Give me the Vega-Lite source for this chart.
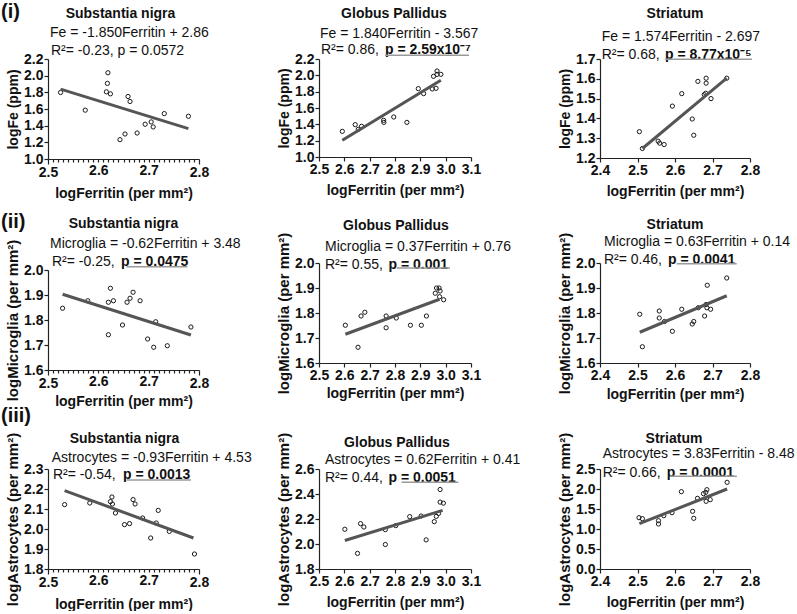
{
"$schema": "https://vega.github.io/schema/vega-lite/v6.json",
"background": "white",
"padding": {"left": 1, "top": 2, "right": 0, "bottom": 0},
"columns": 3,
"spacing": {"row": 104, "column": 120},
"bounds": "flush",
"align": "none",
"datasets": {
"pts": [
{"panel":"SN_Fe","ferritin":2.525,"value":1.798},{"panel":"SN_Fe","ferritin":2.574,"value":1.586},{"panel":"SN_Fe","ferritin":2.619,"value":2.035},{"panel":"SN_Fe","ferritin":2.618,"value":1.907},{"panel":"SN_Fe","ferritin":2.616,"value":1.806},{"panel":"SN_Fe","ferritin":2.624,"value":1.782},{"panel":"SN_Fe","ferritin":2.659,"value":1.75},{"panel":"SN_Fe","ferritin":2.663,"value":1.69},{"panel":"SN_Fe","ferritin":2.643,"value":1.232},{"panel":"SN_Fe","ferritin":2.653,"value":1.3},{"panel":"SN_Fe","ferritin":2.677,"value":1.312},{"panel":"SN_Fe","ferritin":2.693,"value":1.417},{"panel":"SN_Fe","ferritin":2.705,"value":1.445},{"panel":"SN_Fe","ferritin":2.709,"value":1.385},{"panel":"SN_Fe","ferritin":2.731,"value":1.545},{"panel":"SN_Fe","ferritin":2.779,"value":1.513},
{"panel":"GP_Fe","ferritin":2.592,"value":1.314},{"panel":"GP_Fe","ferritin":2.643,"value":1.396},{"panel":"GP_Fe","ferritin":2.655,"value":1.339},{"panel":"GP_Fe","ferritin":2.668,"value":1.376},{"panel":"GP_Fe","ferritin":2.755,"value":1.449},{"panel":"GP_Fe","ferritin":2.756,"value":1.424},{"panel":"GP_Fe","ferritin":2.795,"value":1.49},{"panel":"GP_Fe","ferritin":2.847,"value":1.424},{"panel":"GP_Fe","ferritin":2.892,"value":1.837},{"panel":"GP_Fe","ferritin":2.913,"value":1.776},{"panel":"GP_Fe","ferritin":2.947,"value":1.833},{"panel":"GP_Fe","ferritin":2.962,"value":1.841},{"panel":"GP_Fe","ferritin":2.952,"value":1.988},{"panel":"GP_Fe","ferritin":2.966,"value":2.053},{"panel":"GP_Fe","ferritin":2.966,"value":2.012},{"panel":"GP_Fe","ferritin":2.981,"value":2.012},
{"panel":"ST_Fe","ferritin":2.505,"value":1.333},{"panel":"ST_Fe","ferritin":2.513,"value":1.248},{"panel":"ST_Fe","ferritin":2.555,"value":1.285},{"panel":"ST_Fe","ferritin":2.559,"value":1.275},{"panel":"ST_Fe","ferritin":2.571,"value":1.268},{"panel":"ST_Fe","ferritin":2.593,"value":1.462},{"panel":"ST_Fe","ferritin":2.618,"value":1.525},{"panel":"ST_Fe","ferritin":2.646,"value":1.397},{"panel":"ST_Fe","ferritin":2.65,"value":1.315},{"panel":"ST_Fe","ferritin":2.661,"value":1.587},{"panel":"ST_Fe","ferritin":2.683,"value":1.603},{"panel":"ST_Fe","ferritin":2.683,"value":1.578},{"panel":"ST_Fe","ferritin":2.678,"value":1.52},{"panel":"ST_Fe","ferritin":2.682,"value":1.527},{"panel":"ST_Fe","ferritin":2.696,"value":1.5},{"panel":"ST_Fe","ferritin":2.738,"value":1.603},
{"panel":"SN_Mi","ferritin":2.529,"value":1.847},{"panel":"SN_Mi","ferritin":2.579,"value":1.877},{"panel":"SN_Mi","ferritin":2.624,"value":1.927},{"panel":"SN_Mi","ferritin":2.62,"value":1.871},{"panel":"SN_Mi","ferritin":2.63,"value":1.877},{"panel":"SN_Mi","ferritin":2.62,"value":1.741},{"panel":"SN_Mi","ferritin":2.648,"value":1.78},{"panel":"SN_Mi","ferritin":2.657,"value":1.871},{"panel":"SN_Mi","ferritin":2.663,"value":1.887},{"panel":"SN_Mi","ferritin":2.669,"value":1.911},{"panel":"SN_Mi","ferritin":2.683,"value":1.877},{"panel":"SN_Mi","ferritin":2.714,"value":1.793},{"panel":"SN_Mi","ferritin":2.698,"value":1.724},{"panel":"SN_Mi","ferritin":2.71,"value":1.691},{"panel":"SN_Mi","ferritin":2.737,"value":1.697},{"panel":"SN_Mi","ferritin":2.784,"value":1.772},
{"panel":"GP_Mi","ferritin":2.604,"value":1.751},{"panel":"GP_Mi","ferritin":2.654,"value":1.663},{"panel":"GP_Mi","ferritin":2.666,"value":1.788},{"panel":"GP_Mi","ferritin":2.681,"value":1.803},{"panel":"GP_Mi","ferritin":2.765,"value":1.788},{"panel":"GP_Mi","ferritin":2.765,"value":1.741},{"panel":"GP_Mi","ferritin":2.805,"value":1.78},{"panel":"GP_Mi","ferritin":2.861,"value":1.751},{"panel":"GP_Mi","ferritin":2.904,"value":1.751},{"panel":"GP_Mi","ferritin":2.924,"value":1.788},{"panel":"GP_Mi","ferritin":2.959,"value":1.879},{"panel":"GP_Mi","ferritin":2.964,"value":1.9},{"panel":"GP_Mi","ferritin":2.974,"value":1.9},{"panel":"GP_Mi","ferritin":2.978,"value":1.888},{"panel":"GP_Mi","ferritin":2.976,"value":1.865},{"panel":"GP_Mi","ferritin":2.992,"value":1.853},
{"panel":"ST_Mi","ferritin":2.506,"value":1.795},{"panel":"ST_Mi","ferritin":2.513,"value":1.665},{"panel":"ST_Mi","ferritin":2.558,"value":1.808},{"panel":"ST_Mi","ferritin":2.558,"value":1.78},{"panel":"ST_Mi","ferritin":2.572,"value":1.766},{"panel":"ST_Mi","ferritin":2.593,"value":1.727},{"panel":"ST_Mi","ferritin":2.618,"value":1.815},{"panel":"ST_Mi","ferritin":2.646,"value":1.756},{"panel":"ST_Mi","ferritin":2.65,"value":1.766},{"panel":"ST_Mi","ferritin":2.662,"value":1.821},{"panel":"ST_Mi","ferritin":2.679,"value":1.788},{"panel":"ST_Mi","ferritin":2.683,"value":1.834},{"panel":"ST_Mi","ferritin":2.685,"value":1.821},{"panel":"ST_Mi","ferritin":2.686,"value":1.911},{"panel":"ST_Mi","ferritin":2.695,"value":1.815},{"panel":"ST_Mi","ferritin":2.738,"value":1.94},
{"panel":"SN_As","ferritin":2.533,"value":2.122},{"panel":"SN_As","ferritin":2.583,"value":2.13},{"panel":"SN_As","ferritin":2.627,"value":2.16},{"panel":"SN_As","ferritin":2.624,"value":2.137},{"panel":"SN_As","ferritin":2.628,"value":2.125},{"panel":"SN_As","ferritin":2.634,"value":2.08},{"panel":"SN_As","ferritin":2.652,"value":2.022},{"panel":"SN_As","ferritin":2.662,"value":2.027},{"panel":"SN_As","ferritin":2.669,"value":2.147},{"panel":"SN_As","ferritin":2.673,"value":2.125},{"panel":"SN_As","ferritin":2.688,"value":2.055},{"panel":"SN_As","ferritin":2.704,"value":1.955},{"panel":"SN_As","ferritin":2.715,"value":2.03},{"panel":"SN_As","ferritin":2.719,"value":2.093},{"panel":"SN_As","ferritin":2.741,"value":1.988},{"panel":"SN_As","ferritin":2.791,"value":1.875},
{"panel":"GP_As","ferritin":2.602,"value":2.118},{"panel":"GP_As","ferritin":2.652,"value":1.925},{"panel":"GP_As","ferritin":2.664,"value":2.163},{"panel":"GP_As","ferritin":2.677,"value":2.136},{"panel":"GP_As","ferritin":2.762,"value":2.115},{"panel":"GP_As","ferritin":2.762,"value":1.996},{"panel":"GP_As","ferritin":2.803,"value":2.147},{"panel":"GP_As","ferritin":2.858,"value":2.219},{"panel":"GP_As","ferritin":2.903,"value":2.224},{"panel":"GP_As","ferritin":2.923,"value":2.033},{"panel":"GP_As","ferritin":2.955,"value":2.179},{"panel":"GP_As","ferritin":2.963,"value":2.221},{"panel":"GP_As","ferritin":2.972,"value":2.245},{"panel":"GP_As","ferritin":2.978,"value":2.436},{"panel":"GP_As","ferritin":2.978,"value":2.335},{"panel":"GP_As","ferritin":2.991,"value":2.327},
{"panel":"ST_As","ferritin":2.504,"value":1.283},{"panel":"ST_As","ferritin":2.513,"value":1.258},{"panel":"ST_As","ferritin":2.556,"value":1.208},{"panel":"ST_As","ferritin":2.556,"value":1.125},{"panel":"ST_As","ferritin":2.57,"value":1.333},{"panel":"ST_As","ferritin":2.592,"value":1.408},{"panel":"ST_As","ferritin":2.617,"value":1.933},{"panel":"ST_As","ferritin":2.647,"value":1.442},{"panel":"ST_As","ferritin":2.65,"value":1.267},{"panel":"ST_As","ferritin":2.66,"value":1.767},{"panel":"ST_As","ferritin":2.676,"value":1.883},{"panel":"ST_As","ferritin":2.682,"value":1.917},{"panel":"ST_As","ferritin":2.685,"value":1.983},{"panel":"ST_As","ferritin":2.683,"value":1.692},{"panel":"ST_As","ferritin":2.694,"value":1.733},{"panel":"ST_As","ferritin":2.739,"value":2.167}
],
"fits": [
{"panel":"SN_Fe","ferritin":2.525,"value":1.839},{"panel":"SN_Fe","ferritin":2.779,"value":1.365},
{"panel":"GP_Fe","ferritin":2.592,"value":1.204},{"panel":"GP_Fe","ferritin":2.981,"value":1.939},
{"panel":"ST_Fe","ferritin":2.513,"value":1.248},{"panel":"ST_Fe","ferritin":2.738,"value":1.603},
{"panel":"SN_Mi","ferritin":2.529,"value":1.903},{"panel":"SN_Mi","ferritin":2.784,"value":1.74},
{"panel":"GP_Mi","ferritin":2.604,"value":1.715},{"panel":"GP_Mi","ferritin":2.976,"value":1.855},
{"panel":"ST_Mi","ferritin":2.506,"value":1.723},{"panel":"ST_Mi","ferritin":2.738,"value":1.869},
{"panel":"SN_As","ferritin":2.533,"value":2.192},{"panel":"SN_As","ferritin":2.789,"value":1.955},
{"panel":"GP_As","ferritin":2.602,"value":2.028},{"panel":"GP_As","ferritin":2.988,"value":2.269},
{"panel":"ST_As","ferritin":2.505,"value":1.133},{"panel":"ST_As","ferritin":2.739,"value":2.0}
],
"annot": [
{"panel":"SN_Fe","role":"title","text":"Substantia nigra"},{"panel":"SN_Fe","role":"eq","text":"Fe = -1.850Ferritin + 2.86"},{"panel":"SN_Fe","role":"r2","text":"R²= -0.23, p = 0.0572"},{"panel":"SN_Fe","role":"roman","text":"(i)"},
{"panel":"GP_Fe","role":"title","text":"Globus Pallidus"},{"panel":"GP_Fe","role":"eq","text":"Fe = 1.840Ferritin - 3.567"},{"panel":"GP_Fe","role":"r2","text":"R²= 0.86,"},{"panel":"GP_Fe","role":"p","text":"p = 2.59x10⁻⁷"},
{"panel":"ST_Fe","role":"title","text":"Striatum"},{"panel":"ST_Fe","role":"eq","text":"Fe = 1.574Ferritin - 2.697"},{"panel":"ST_Fe","role":"r2","text":"R²= 0.68,"},{"panel":"ST_Fe","role":"p","text":"p = 8.77x10⁻⁵"},
{"panel":"SN_Mi","role":"title","text":"Substantia nigra"},{"panel":"SN_Mi","role":"eq","text":"Microglia = -0.62Ferritin + 3.48"},{"panel":"SN_Mi","role":"r2","text":"R²= -0.25,"},{"panel":"SN_Mi","role":"p","text":"p = 0.0475"},{"panel":"SN_Mi","role":"roman","text":"(ii)"},
{"panel":"GP_Mi","role":"title","text":"Globus Pallidus"},{"panel":"GP_Mi","role":"eq","text":"Microglia = 0.37Ferritin + 0.76"},{"panel":"GP_Mi","role":"r2","text":"R²= 0.55,"},{"panel":"GP_Mi","role":"p","text":"p = 0.001"},
{"panel":"ST_Mi","role":"title","text":"Striatum"},{"panel":"ST_Mi","role":"eq","text":"Microglia = 0.63Ferritin + 0.14"},{"panel":"ST_Mi","role":"r2","text":"R²= 0.46,"},{"panel":"ST_Mi","role":"p","text":"p = 0.0041"},
{"panel":"SN_As","role":"title","text":"Substantia nigra"},{"panel":"SN_As","role":"eq","text":"Astrocytes = -0.93Ferritin + 4.53"},{"panel":"SN_As","role":"r2","text":"R²= -0.54,"},{"panel":"SN_As","role":"p","text":"p = 0.0013"},{"panel":"SN_As","role":"roman","text":"(iii)"},
{"panel":"GP_As","role":"title","text":"Globus Pallidus"},{"panel":"GP_As","role":"eq","text":"Astrocytes = 0.62Ferritin + 0.41"},{"panel":"GP_As","role":"r2","text":"R²= 0.44,"},{"panel":"GP_As","role":"p","text":"p = 0.0051"},
{"panel":"ST_As","role":"title","text":"Striatum"},{"panel":"ST_As","role":"eq","text":"Astrocytes = 3.83Ferritin - 8.48"},{"panel":"ST_As","role":"r2","text":"R²= 0.66,"},{"panel":"ST_As","role":"p","text":"p = 0.0001"}
]
},
"concat": [
{"width":151,"height":100,"layer":[
{"data":{"name":"pts"},"transform":[{"filter":"datum.panel==='SN_Fe'"}],"mark":{"type":"point","shape":"circle","filled":false,"stroke":"#1a1a1a","strokeWidth":1,"size":18,"opacity":1},
"encoding":{"x":{"field":"ferritin","type":"quantitative","scale":{"domain":[2.5,2.8],"nice":false,"zero":false},"axis":{"title":"logFerritin (per mm²)","titlePadding":7,"tickCount":100,"labelOverlap":false,"values":[2.5,2.51,2.52,2.53,2.54,2.55,2.56,2.57,2.58,2.59,2.6,2.61,2.62,2.63,2.64,2.65,2.66,2.67,2.68,2.69,2.7,2.71,2.72,2.73,2.74,2.75,2.76,2.77,2.78,2.79,2.8],"labelExpr":"round(datum.value*100) % 10 === 0 ? format(datum.value, '.1f') : ''","tickSize":{"condition":{"test":"datum.value < 2.505 || datum.value > 2.795","value":5},"value":3}}},
"y":{"field":"value","type":"quantitative","scale":{"domain":[1.0,2.2],"nice":false,"zero":false},"axis":{"title":"logFe (ppm)","tickCount":100,"labelOverlap":false,"values":[1.0,1.2,1.4,1.6,1.8,2.0,2.2],"format":".1f"}}}},
{"data":{"name":"fits"},"transform":[{"filter":"datum.panel==='SN_Fe'"}],"mark":{"type":"line","color":"#555555","strokeWidth":3},"encoding":{"x":{"field":"ferritin","type":"quantitative"},"y":{"field":"value","type":"quantitative"}}},
{"data":{"name":"annot"},"transform":[{"filter":"datum.panel==='SN_Fe' && datum.role==='title'"}],"mark":{"type":"text","fontWeight":"bold","align":"center","dx":-3,"dy":-41.5},"encoding":{"x":{"datum":2.65},"y":{"datum":2.2},"text":{"field":"text"}}},
{"data":{"name":"annot"},"transform":[{"filter":"datum.panel==='SN_Fe' && datum.role==='eq'"}],"mark":{"type":"text","align":"left","dx":2,"dy":-22},"encoding":{"x":{"datum":2.5},"y":{"datum":2.2},"text":{"field":"text"}}},
{"data":{"name":"annot"},"transform":[{"filter":"datum.panel==='SN_Fe' && datum.role==='r2'"}],"mark":{"type":"text","align":"left","dx":3,"dy":-4.5},"encoding":{"x":{"datum":2.5},"y":{"datum":2.2},"text":{"field":"text"}}},
{"data":{"name":"annot"},"transform":[{"filter":"datum.panel==='SN_Fe' && datum.role==='roman'"}],"mark":{"type":"text","align":"left","fontWeight":"bold","fontSize":20,"dx":-47,"dy":-41},"encoding":{"x":{"datum":2.5},"y":{"datum":2.2},"text":{"field":"text"}}}
]},
{"width":161,"height":98,"layer":[
{"data":{"name":"pts"},"transform":[{"filter":"datum.panel==='GP_Fe'"}],"mark":{"type":"point","shape":"circle","filled":false,"stroke":"#1a1a1a","strokeWidth":1,"size":18,"opacity":1},
"encoding":{"x":{"field":"ferritin","type":"quantitative","scale":{"domain":[2.5,3.1],"range":[0,152],"nice":false,"zero":false},"axis":{"title":"logFerritin (per mm²)","titlePadding":7,"tickCount":100,"labelOverlap":false,"values":[2.5,2.6,2.7,2.8,2.9,3.0,3.1],"format":".1f"}},
"y":{"field":"value","type":"quantitative","scale":{"domain":[1.0,2.2],"nice":false,"zero":false},"axis":{"title":"logFe (ppm)","tickCount":100,"labelOverlap":false,"values":[1.0,1.2,1.4,1.6,1.8,2.0,2.2],"format":".1f"}}}},
{"data":{"name":"fits"},"transform":[{"filter":"datum.panel==='GP_Fe'"}],"mark":{"type":"line","color":"#555555","strokeWidth":3},"encoding":{"x":{"field":"ferritin","type":"quantitative"},"y":{"field":"value","type":"quantitative"}}},
{"data":{"name":"annot"},"transform":[{"filter":"datum.panel==='GP_Fe' && datum.role==='title'"}],"mark":{"type":"text","fontWeight":"bold","align":"center","dx":-1,"dy":-41.4},"encoding":{"x":{"datum":2.8},"y":{"datum":2.2},"text":{"field":"text"}}},
{"data":{"name":"annot"},"transform":[{"filter":"datum.panel==='GP_Fe' && datum.role==='eq'"}],"mark":{"type":"text","align":"left","dx":1,"dy":-21.5},"encoding":{"x":{"datum":2.5},"y":{"datum":2.2},"text":{"field":"text"}}},
{"data":{"name":"annot"},"transform":[{"filter":"datum.panel==='GP_Fe' && datum.role==='r2'"}],"mark":{"type":"text","align":"left","dx":2,"dy":-5},"encoding":{"x":{"datum":2.5},"y":{"datum":2.2},"text":{"field":"text"}}},
{"data":{"name":"annot"},"transform":[{"filter":"datum.panel==='GP_Fe' && datum.role==='p'"}],"mark":{"type":"text","align":"left","fontWeight":"bold","dx":66,"dy":-5},"encoding":{"x":{"datum":2.5},"y":{"datum":2.2},"text":{"field":"text"}}},
{"data":{"name":"annot"},"transform":[{"filter":"datum.panel==='GP_Fe' && datum.role==='p'"}],"mark":{"type":"rule","color":"#9a9a9a","strokeWidth":1.5},"encoding":{"x":{"datum":2.761},"x2":{"datum":3.092},"y":{"datum":2.245}}}
]},
{"width":150,"height":99,"layer":[
{"data":{"name":"pts"},"transform":[{"filter":"datum.panel==='ST_Fe'"}],"mark":{"type":"point","shape":"circle","filled":false,"stroke":"#1a1a1a","strokeWidth":1,"size":18,"opacity":1},
"encoding":{"x":{"field":"ferritin","type":"quantitative","scale":{"domain":[2.4,2.8],"nice":false,"zero":false},"axis":{"title":"logFerritin (per mm²)","titlePadding":7,"tickCount":100,"labelOverlap":false,"values":[2.4,2.5,2.6,2.7,2.8],"format":".1f"}},
"y":{"field":"value","type":"quantitative","scale":{"domain":[1.2,1.7],"nice":false,"zero":false},"axis":{"title":"logFe (ppm)","tickCount":100,"labelOverlap":false,"values":[1.2,1.3,1.4,1.5,1.6,1.7],"format":".1f"}}}},
{"data":{"name":"fits"},"transform":[{"filter":"datum.panel==='ST_Fe'"}],"mark":{"type":"line","color":"#555555","strokeWidth":3},"encoding":{"x":{"field":"ferritin","type":"quantitative"},"y":{"field":"value","type":"quantitative"}}},
{"data":{"name":"annot"},"transform":[{"filter":"datum.panel==='ST_Fe' && datum.role==='title'"}],"mark":{"type":"text","fontWeight":"bold","align":"center","dy":-40.7},"encoding":{"x":{"datum":2.6},"y":{"datum":1.7},"text":{"field":"text"}}},
{"data":{"name":"annot"},"transform":[{"filter":"datum.panel==='ST_Fe' && datum.role==='eq'"}],"mark":{"type":"text","align":"left","dx":1.7,"dy":-18.5},"encoding":{"x":{"datum":2.4},"y":{"datum":1.7},"text":{"field":"text"}}},
{"data":{"name":"annot"},"transform":[{"filter":"datum.panel==='ST_Fe' && datum.role==='r2'"}],"mark":{"type":"text","align":"left","dx":1.7,"dy":0},"encoding":{"x":{"datum":2.4},"y":{"datum":1.7},"text":{"field":"text"}}},
{"data":{"name":"annot"},"transform":[{"filter":"datum.panel==='ST_Fe' && datum.role==='p'"}],"mark":{"type":"text","align":"left","fontWeight":"bold","dx":65,"dy":0},"encoding":{"x":{"datum":2.4},"y":{"datum":1.7},"text":{"field":"text"}}},
{"data":{"name":"annot"},"transform":[{"filter":"datum.panel==='ST_Fe' && datum.role==='p'"}],"mark":{"type":"rule","color":"#9a9a9a","strokeWidth":1.5},"encoding":{"x":{"datum":2.573},"x2":{"datum":2.805},"y":{"datum":1.6985}}}
]},
{"width":151,"height":102,"layer":[
{"data":{"name":"pts"},"transform":[{"filter":"datum.panel==='SN_Mi'"}],"mark":{"type":"point","shape":"circle","filled":false,"stroke":"#1a1a1a","strokeWidth":1,"size":18,"opacity":1},
"encoding":{"x":{"field":"ferritin","type":"quantitative","scale":{"domain":[2.5,2.8],"nice":false,"zero":false},"axis":{"title":"logFerritin (per mm²)","titlePadding":4,"offset":5,"tickCount":100,"labelOverlap":false,"values":[2.5,2.51,2.52,2.53,2.54,2.55,2.56,2.57,2.58,2.59,2.6,2.61,2.62,2.63,2.64,2.65,2.66,2.67,2.68,2.69,2.7,2.71,2.72,2.73,2.74,2.75,2.76,2.77,2.78,2.79,2.8],"labelExpr":"round(datum.value*100) % 10 === 0 ? format(datum.value, '.1f') : ''","tickSize":{"condition":{"test":"datum.value < 2.505 || datum.value > 2.795","value":5},"value":3}}},
"y":{"field":"value","type":"quantitative","scale":{"domain":[1.6,2.0],"range":[107,7],"nice":false,"zero":false},"axis":{"title":"logMicroglia (per mm²)","titleFontSize":15,"tickCount":100,"labelOverlap":false,"values":[1.6,1.7,1.8,1.9,2.0],"format":".1f"}}}},
{"data":{"name":"fits"},"transform":[{"filter":"datum.panel==='SN_Mi'"}],"mark":{"type":"line","color":"#555555","strokeWidth":3},"encoding":{"x":{"field":"ferritin","type":"quantitative"},"y":{"field":"value","type":"quantitative"}}},
{"data":{"name":"annot"},"transform":[{"filter":"datum.panel==='SN_Mi' && datum.role==='title'"}],"mark":{"type":"text","fontWeight":"bold","align":"center","dy":-41.7},"encoding":{"x":{"datum":2.65},"y":{"datum":2.0},"text":{"field":"text"}}},
{"data":{"name":"annot"},"transform":[{"filter":"datum.panel==='SN_Mi' && datum.role==='eq'"}],"mark":{"type":"text","align":"left","dx":2,"dy":-21.7},"encoding":{"x":{"datum":2.5},"y":{"datum":2.0},"text":{"field":"text"}}},
{"data":{"name":"annot"},"transform":[{"filter":"datum.panel==='SN_Mi' && datum.role==='r2'"}],"mark":{"type":"text","align":"left","dx":4,"dy":-4.3},"encoding":{"x":{"datum":2.5},"y":{"datum":2.0},"text":{"field":"text"}}},
{"data":{"name":"annot"},"transform":[{"filter":"datum.panel==='SN_Mi' && datum.role==='p'"}],"mark":{"type":"text","align":"left","fontWeight":"bold","dx":73,"dy":-4.3},"encoding":{"x":{"datum":2.5},"y":{"datum":2.0},"text":{"field":"text"}}},
{"data":{"name":"annot"},"transform":[{"filter":"datum.panel==='SN_Mi' && datum.role==='p'"}],"mark":{"type":"rule","color":"#9a9a9a","strokeWidth":1.5},"encoding":{"x":{"datum":2.656},"x2":{"datum":2.777},"y":{"datum":2.013}}},
{"data":{"name":"annot"},"transform":[{"filter":"datum.panel==='SN_Mi' && datum.role==='roman'"}],"mark":{"type":"text","align":"left","fontWeight":"bold","fontSize":20,"dx":-47,"dy":-42},"encoding":{"x":{"datum":2.5},"y":{"datum":2.0},"text":{"field":"text"}}}
]},
{"width":161,"height":100,"layer":[
{"data":{"name":"pts"},"transform":[{"filter":"datum.panel==='GP_Mi'"}],"mark":{"type":"point","shape":"circle","filled":false,"stroke":"#1a1a1a","strokeWidth":1,"size":18,"opacity":1},
"encoding":{"x":{"field":"ferritin","type":"quantitative","scale":{"domain":[2.5,3.1],"range":[0,152],"nice":false,"zero":false},"axis":{"title":"logFerritin (per mm²)","titlePadding":4,"tickCount":100,"labelOverlap":false,"values":[2.5,2.6,2.7,2.8,2.9,3.0,3.1],"format":".1f"}},
"y":{"field":"value","type":"quantitative","scale":{"domain":[1.6,2.0],"nice":false,"zero":false},"axis":{"title":"logMicroglia (per mm²)","titleFontSize":15,"tickCount":100,"labelOverlap":false,"values":[1.6,1.7,1.8,1.9,2.0],"format":".1f"}}}},
{"data":{"name":"fits"},"transform":[{"filter":"datum.panel==='GP_Mi'"}],"mark":{"type":"line","color":"#555555","strokeWidth":3},"encoding":{"x":{"field":"ferritin","type":"quantitative"},"y":{"field":"value","type":"quantitative"}}},
{"data":{"name":"annot"},"transform":[{"filter":"datum.panel==='GP_Mi' && datum.role==='title'"}],"mark":{"type":"text","fontWeight":"bold","align":"center","dx":1,"dy":-32.7},"encoding":{"x":{"datum":2.8},"y":{"datum":2.0},"text":{"field":"text"}}},
{"data":{"name":"annot"},"transform":[{"filter":"datum.panel==='GP_Mi' && datum.role==='eq'"}],"mark":{"type":"text","align":"left","dx":6,"dy":-11.7},"encoding":{"x":{"datum":2.5},"y":{"datum":2.0},"text":{"field":"text"}}},
{"data":{"name":"annot"},"transform":[{"filter":"datum.panel==='GP_Mi' && datum.role==='r2'"}],"mark":{"type":"text","align":"left","dx":6,"dy":5.7},"encoding":{"x":{"datum":2.5},"y":{"datum":2.0},"text":{"field":"text"}}},
{"data":{"name":"annot"},"transform":[{"filter":"datum.panel==='GP_Mi' && datum.role==='p'"}],"mark":{"type":"text","align":"left","fontWeight":"bold","dx":69.5,"dy":5.7},"encoding":{"x":{"datum":2.5},"y":{"datum":2.0},"text":{"field":"text"}}},
{"data":{"name":"annot"},"transform":[{"filter":"datum.panel==='GP_Mi' && datum.role==='p'"}],"mark":{"type":"rule","color":"#9a9a9a","strokeWidth":1.5},"encoding":{"x":{"datum":2.807},"x2":{"datum":3.017},"y":{"datum":1.98}}}
]},
{"width":150,"height":100,"layer":[
{"data":{"name":"pts"},"transform":[{"filter":"datum.panel==='ST_Mi'"}],"mark":{"type":"point","shape":"circle","filled":false,"stroke":"#1a1a1a","strokeWidth":1,"size":18,"opacity":1},
"encoding":{"x":{"field":"ferritin","type":"quantitative","scale":{"domain":[2.4,2.8],"nice":false,"zero":false},"axis":{"title":"logFerritin (per mm²)","titlePadding":5,"tickCount":100,"labelOverlap":false,"values":[2.4,2.5,2.6,2.7,2.8],"format":".1f"}},
"y":{"field":"value","type":"quantitative","scale":{"domain":[1.6,2.0],"nice":false,"zero":false},"axis":{"title":"logMicroglia (per mm²)","titleFontSize":15,"tickCount":100,"labelOverlap":false,"values":[1.6,1.7,1.8,1.9,2.0],"format":".1f"}}}},
{"data":{"name":"fits"},"transform":[{"filter":"datum.panel==='ST_Mi'"}],"mark":{"type":"line","color":"#555555","strokeWidth":3},"encoding":{"x":{"field":"ferritin","type":"quantitative"},"y":{"field":"value","type":"quantitative"}}},
{"data":{"name":"annot"},"transform":[{"filter":"datum.panel==='ST_Mi' && datum.role==='title'"}],"mark":{"type":"text","fontWeight":"bold","align":"center","dy":-33.7},"encoding":{"x":{"datum":2.6},"y":{"datum":2.0},"text":{"field":"text"}}},
{"data":{"name":"annot"},"transform":[{"filter":"datum.panel==='ST_Mi' && datum.role==='eq'"}],"mark":{"type":"text","align":"left","dx":4,"dy":-17},"encoding":{"x":{"datum":2.4},"y":{"datum":2.0},"text":{"field":"text"}}},
{"data":{"name":"annot"},"transform":[{"filter":"datum.panel==='ST_Mi' && datum.role==='r2'"}],"mark":{"type":"text","align":"left","dx":4,"dy":1.3},"encoding":{"x":{"datum":2.4},"y":{"datum":2.0},"text":{"field":"text"}}},
{"data":{"name":"annot"},"transform":[{"filter":"datum.panel==='ST_Mi' && datum.role==='p'"}],"mark":{"type":"text","align":"left","fontWeight":"bold","dx":68,"dy":1.3},"encoding":{"x":{"datum":2.4},"y":{"datum":2.0},"text":{"field":"text"}}},
{"data":{"name":"annot"},"transform":[{"filter":"datum.panel==='ST_Mi' && datum.role==='p'"}],"mark":{"type":"rule","color":"#9a9a9a","strokeWidth":1.5},"encoding":{"x":{"datum":2.6045},"x2":{"datum":2.7645},"y":{"datum":1.997}}}
]},
{"width":151,"height":100,"layer":[
{"data":{"name":"pts"},"transform":[{"filter":"datum.panel==='SN_As'"}],"mark":{"type":"point","shape":"circle","filled":false,"stroke":"#1a1a1a","strokeWidth":1,"size":18,"opacity":1},
"encoding":{"x":{"field":"ferritin","type":"quantitative","scale":{"domain":[2.5,2.8],"nice":false,"zero":false},"axis":{"title":"logFerritin (per mm²)","titlePadding":8,"tickCount":100,"labelOverlap":false,"values":[2.5,2.51,2.52,2.53,2.54,2.55,2.56,2.57,2.58,2.59,2.6,2.61,2.62,2.63,2.64,2.65,2.66,2.67,2.68,2.69,2.7,2.71,2.72,2.73,2.74,2.75,2.76,2.77,2.78,2.79,2.8],"labelExpr":"round(datum.value*100) % 10 === 0 ? format(datum.value, '.1f') : ''","tickSize":{"condition":{"test":"datum.value < 2.505 || datum.value > 2.795","value":5},"value":3}}},
"y":{"field":"value","type":"quantitative","scale":{"domain":[1.8,2.3],"nice":false,"zero":false},"axis":{"title":"logAstrocytes (per mm²)","titleFontSize":15,"tickCount":100,"labelOverlap":false,"values":[1.8,1.9,2.0,2.1,2.2,2.3],"format":".1f"}}}},
{"data":{"name":"fits"},"transform":[{"filter":"datum.panel==='SN_As'"}],"mark":{"type":"line","color":"#555555","strokeWidth":3},"encoding":{"x":{"field":"ferritin","type":"quantitative"},"y":{"field":"value","type":"quantitative"}}},
{"data":{"name":"annot"},"transform":[{"filter":"datum.panel==='SN_As' && datum.role==='title'"}],"mark":{"type":"text","fontWeight":"bold","align":"center","dx":1,"dy":-25.7},"encoding":{"x":{"datum":2.65},"y":{"datum":2.3},"text":{"field":"text"}}},
{"data":{"name":"annot"},"transform":[{"filter":"datum.panel==='SN_As' && datum.role==='eq'"}],"mark":{"type":"text","align":"left","dx":3.7,"dy":-6.7},"encoding":{"x":{"datum":2.5},"y":{"datum":2.3},"text":{"field":"text"}}},
{"data":{"name":"annot"},"transform":[{"filter":"datum.panel==='SN_As' && datum.role==='r2'"}],"mark":{"type":"text","align":"left","dx":5,"dy":10},"encoding":{"x":{"datum":2.5},"y":{"datum":2.3},"text":{"field":"text"}}},
{"data":{"name":"annot"},"transform":[{"filter":"datum.panel==='SN_As' && datum.role==='p'"}],"mark":{"type":"text","align":"left","fontWeight":"bold","dx":75,"dy":10},"encoding":{"x":{"datum":2.5},"y":{"datum":2.3},"text":{"field":"text"}}},
{"data":{"name":"annot"},"transform":[{"filter":"datum.panel==='SN_As' && datum.role==='p'"}],"mark":{"type":"rule","color":"#9a9a9a","strokeWidth":1.5},"encoding":{"x":{"datum":2.656},"x2":{"datum":2.784},"y":{"datum":2.245}}},
{"data":{"name":"annot"},"transform":[{"filter":"datum.panel==='SN_As' && datum.role==='roman'"}],"mark":{"type":"text","align":"left","fontWeight":"bold","fontSize":20,"dx":-47,"dy":-47},"encoding":{"x":{"datum":2.5},"y":{"datum":2.3},"text":{"field":"text"}}}
]},
{"width":161,"height":100,"layer":[
{"data":{"name":"pts"},"transform":[{"filter":"datum.panel==='GP_As'"}],"mark":{"type":"point","shape":"circle","filled":false,"stroke":"#1a1a1a","strokeWidth":1,"size":18,"opacity":1},
"encoding":{"x":{"field":"ferritin","type":"quantitative","scale":{"domain":[2.5,3.1],"range":[0,152],"nice":false,"zero":false},"axis":{"title":"logFerritin (per mm²)","titlePadding":7,"tickCount":100,"labelOverlap":false,"values":[2.5,2.6,2.7,2.8,2.9,3.0,3.1],"format":".1f"}},
"y":{"field":"value","type":"quantitative","scale":{"domain":[1.8,2.6],"nice":false,"zero":false},"axis":{"title":"logAstrocytes (per mm²)","titleFontSize":15,"tickCount":100,"labelOverlap":false,"values":[1.8,2.0,2.2,2.4,2.6],"format":".1f"}}}},
{"data":{"name":"fits"},"transform":[{"filter":"datum.panel==='GP_As'"}],"mark":{"type":"line","color":"#555555","strokeWidth":3},"encoding":{"x":{"field":"ferritin","type":"quantitative"},"y":{"field":"value","type":"quantitative"}}},
{"data":{"name":"annot"},"transform":[{"filter":"datum.panel==='GP_As' && datum.role==='title'"}],"mark":{"type":"text","fontWeight":"bold","align":"center","dx":2,"dy":-21.7},"encoding":{"x":{"datum":2.8},"y":{"datum":2.6},"text":{"field":"text"}}},
{"data":{"name":"annot"},"transform":[{"filter":"datum.panel==='GP_As' && datum.role==='eq'"}],"mark":{"type":"text","align":"left","dx":6,"dy":-5},"encoding":{"x":{"datum":2.5},"y":{"datum":2.6},"text":{"field":"text"}}},
{"data":{"name":"annot"},"transform":[{"filter":"datum.panel==='GP_As' && datum.role==='r2'"}],"mark":{"type":"text","align":"left","dx":6,"dy":13.3},"encoding":{"x":{"datum":2.5},"y":{"datum":2.6},"text":{"field":"text"}}},
{"data":{"name":"annot"},"transform":[{"filter":"datum.panel==='GP_As' && datum.role==='p'"}],"mark":{"type":"text","align":"left","fontWeight":"bold","dx":69.5,"dy":13.3},"encoding":{"x":{"datum":2.5},"y":{"datum":2.6},"text":{"field":"text"}}},
{"data":{"name":"annot"},"transform":[{"filter":"datum.panel==='GP_As' && datum.role==='p'"}],"mark":{"type":"rule","color":"#9a9a9a","strokeWidth":1.5},"encoding":{"x":{"datum":2.826},"x2":{"datum":3.05},"y":{"datum":2.494}}}
]},
{"width":150,"height":100,"layer":[
{"data":{"name":"pts"},"transform":[{"filter":"datum.panel==='ST_As'"}],"mark":{"type":"point","shape":"circle","filled":false,"stroke":"#1a1a1a","strokeWidth":1,"size":18,"opacity":1},
"encoding":{"x":{"field":"ferritin","type":"quantitative","scale":{"domain":[2.4,2.8],"nice":false,"zero":false},"axis":{"title":"logFerritin (per mm²)","titlePadding":7,"tickCount":100,"labelOverlap":false,"values":[2.4,2.5,2.6,2.7,2.8],"format":".1f"}},
"y":{"field":"value","type":"quantitative","scale":{"domain":[0,2.5],"nice":false,"zero":false},"axis":{"title":"logAstrocytes (per mm²)","titleFontSize":15,"tickCount":100,"labelOverlap":false,"values":[0,0.5,1.0,1.5,2.0,2.5],"format":".1f"}}}},
{"data":{"name":"fits"},"transform":[{"filter":"datum.panel==='ST_As'"}],"mark":{"type":"line","color":"#555555","strokeWidth":3},"encoding":{"x":{"field":"ferritin","type":"quantitative"},"y":{"field":"value","type":"quantitative"}}},
{"data":{"name":"annot"},"transform":[{"filter":"datum.panel==='ST_As' && datum.role==='title'"}],"mark":{"type":"text","fontWeight":"bold","align":"center","dx":-1,"dy":-26.3},"encoding":{"x":{"datum":2.6},"y":{"datum":2.5},"text":{"field":"text"}}},
{"data":{"name":"annot"},"transform":[{"filter":"datum.panel==='ST_As' && datum.role==='eq'"}],"mark":{"type":"text","align":"left","dx":2.7,"dy":-11},"encoding":{"x":{"datum":2.4},"y":{"datum":2.5},"text":{"field":"text"}}},
{"data":{"name":"annot"},"transform":[{"filter":"datum.panel==='ST_As' && datum.role==='r2'"}],"mark":{"type":"text","align":"left","dx":2.7,"dy":8},"encoding":{"x":{"datum":2.4},"y":{"datum":2.5},"text":{"field":"text"}}},
{"data":{"name":"annot"},"transform":[{"filter":"datum.panel==='ST_As' && datum.role==='p'"}],"mark":{"type":"text","align":"left","fontWeight":"bold","dx":66.7,"dy":8},"encoding":{"x":{"datum":2.4},"y":{"datum":2.5},"text":{"field":"text"}}},
{"data":{"name":"annot"},"transform":[{"filter":"datum.panel==='ST_As' && datum.role==='p'"}],"mark":{"type":"rule","color":"#9a9a9a","strokeWidth":1.5},"encoding":{"x":{"datum":2.587},"x2":{"datum":2.765},"y":{"datum":2.317}}}
]}
],
"config": {
"font": "Liberation Sans",
"view": {"stroke": null},
"axis": {"grid": false, "domainColor": "#222222", "domainWidth": 1.2, "tickColor": "#222222", "tickWidth": 1.2, "tickSize": 4, "labelColor": "#111111", "labelFont": "Liberation Sans", "labelFontSize": 14, "labelFontWeight": "bold", "labelPadding": 1, "labelFlush": false, "labelOverlap": false, "titleColor": "#111111", "titleFont": "Liberation Sans", "titleFontSize": 14, "titleFontWeight": "bold"},
"axisY": {"titlePadding": 3},
"text": {"font": "Liberation Sans", "fontSize": 14, "color": "#111111", "baseline": "alphabetic"}
}
}
